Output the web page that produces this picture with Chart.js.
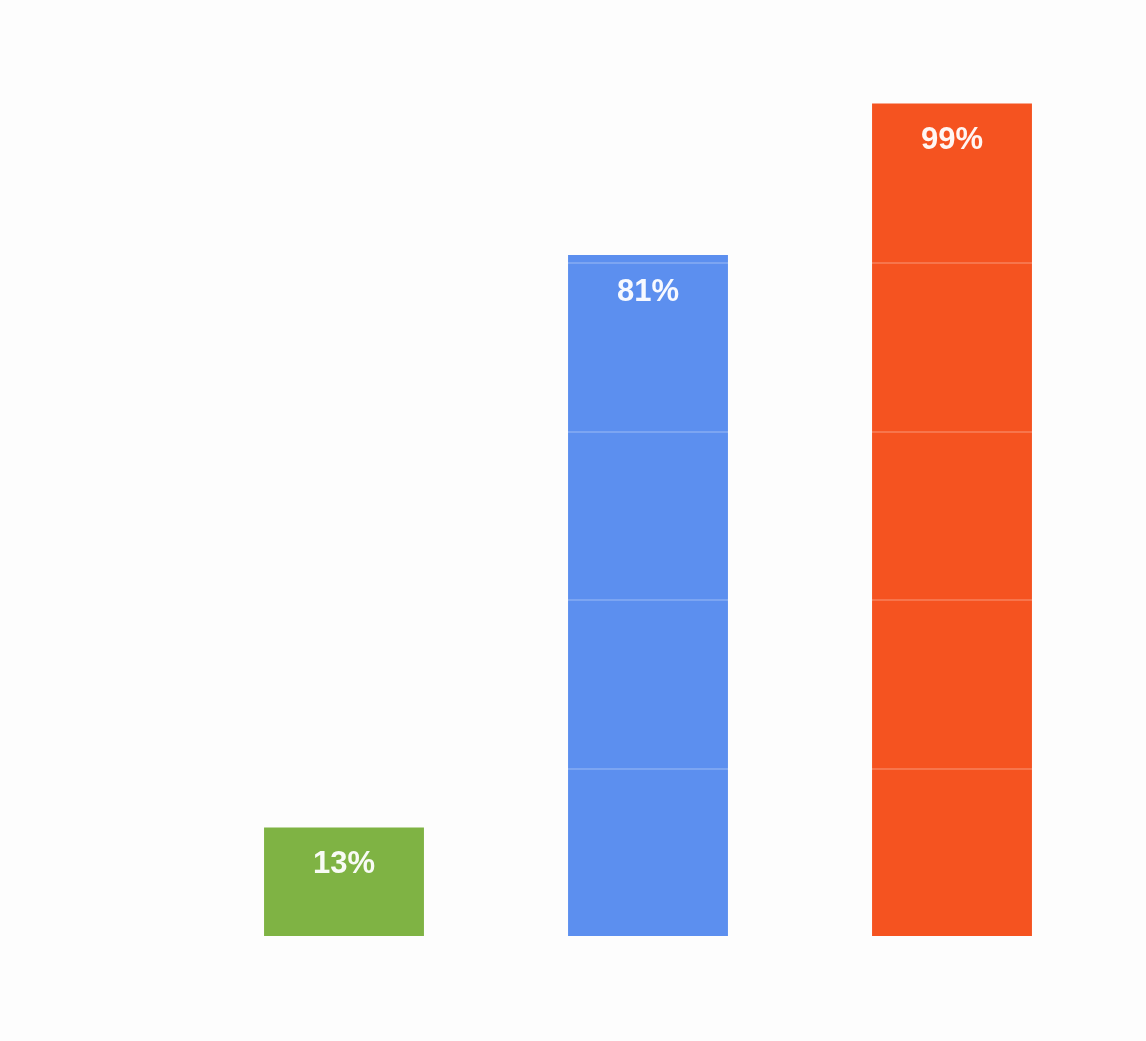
<!DOCTYPE html>
<html>
<head>
<meta charset="utf-8">
<script src="https://cdn.jsdelivr.net/npm/chart.js@4"></script>
<style>body{margin:0;background:#fdfdfd}</style>
</head>
<body>
<canvas id="chart" width="1146" height="1041"></canvas>
<script>
const categories = ['A', 'B', 'C'];
const values = [13, 81, 99];
const colors = ['#7fb344', '#5c8fef', '#f55320'];

// white percent labels near the top of each bar
const valueLabels = {
  id: 'valueLabels',
  afterDatasetsDraw(chart) {
    const ctx = chart.ctx;
    ctx.save();
    ctx.fillStyle = 'rgba(255,255,255,0.95)';
    ctx.font = 'bold 31px "Liberation Sans", Arial, sans-serif';
    ctx.textAlign = 'center';
    ctx.textBaseline = 'middle';
    chart.getDatasetMeta(0).data.forEach((bar, i) => {
      ctx.fillText(values[i] + '%', bar.x, bar.y + 37);
    });
    ctx.restore();
  }
};

new Chart(document.getElementById('chart').getContext('2d'), {
  type: 'bar',
  data: {
    labels: categories,
    datasets: [{
      data: values,
      backgroundColor: colors,
      barPercentage: 0.526,
      categoryPercentage: 1
    }]
  },
  options: {
    responsive: false,
    animation: false,
    layout: { padding: { left: 192, right: 42, top: 95, bottom: 104 } },
    plugins: { legend: { display: false }, tooltip: { enabled: false } },
    scales: {
      x: { display: false },
      y: {
        min: 0, max: 100,
        ticks: { display: false, stepSize: 20 },
        border: { display: false },
        grid: { color: 'rgba(255,255,255,0.2)', lineWidth: 2, drawTicks: false, z: 1 }
      }
    }
  },
  plugins: [valueLabels]
});
</script>
</body>
</html>
